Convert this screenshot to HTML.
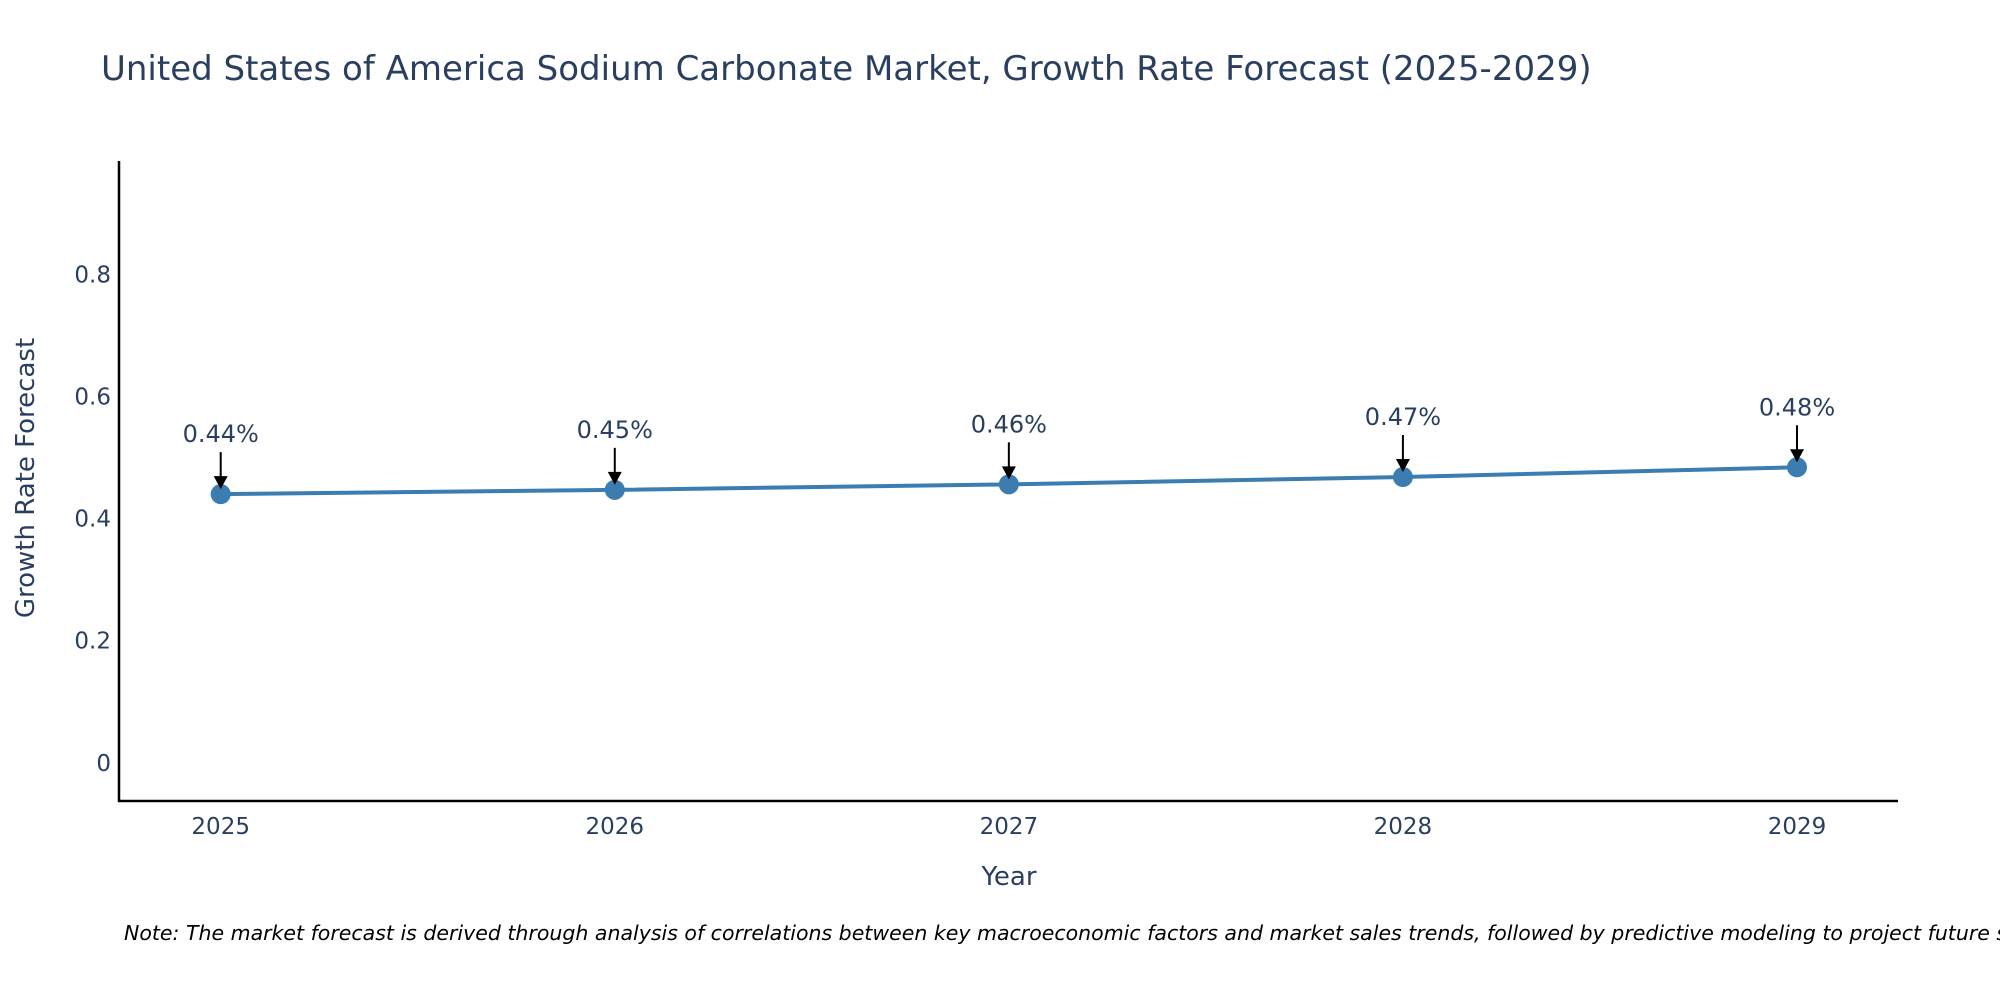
<!DOCTYPE html>
<html><head><meta charset="utf-8"><style>
html,body{margin:0;padding:0;background:#fff;overflow:hidden;}
svg{display:block;font-family:"DejaVu Sans","Liberation Sans",sans-serif;}
</style></head><body>
<svg id="chart" width="2000" height="1000" viewBox="0 0 2000 1000">
<text x="101" y="80" font-size="34" fill="#2a3f5f">United States of America Sodium Carbonate Market, Growth Rate Forecast (2025-2029)</text>
<g id="axes"></g>
<g id="series"></g>
<text x="1009" y="885" font-size="26" fill="#2a3f5f" text-anchor="middle">Year</text>
<text transform="translate(34,478) rotate(-90)" font-size="26" fill="#2a3f5f" text-anchor="middle">Growth Rate Forecast</text>
<text x="124" y="940" font-size="20.5" font-style="italic" fill="#000">Note: The market forecast is derived through analysis of correlations between key macroeconomic factors and market sales trends, followed by predictive modeling to project future sales.</text>
</svg>
<script>
const years = ["2025","2026","2027","2028","2029"];
const growth = [0.44, 0.447, 0.456, 0.468, 0.484];
const labels = ["0.44%","0.45%","0.46%","0.47%","0.48%"];
const yTicks = [0, 0.2, 0.4, 0.6, 0.8];
const yTickLabels = ["0","0.2","0.4","0.6","0.8"];

const NS="http://www.w3.org/2000/svg";
const x0=220.7, x1=1797, y0=762.8, yPer=610.6;
function xs(i){return x0+(x1-x0)*i/(years.length-1);}
function ys(v){return y0-v*yPer;}
function mk(tag,attrs,parent){const e=document.createElementNS(NS,tag);for(const k in attrs)e.setAttribute(k,attrs[k]);parent.appendChild(e);return e;}
const axes=document.getElementById('axes'), ser=document.getElementById('series');

let yl=mk('line',{x1:119,y1:161,x2:119,y2:802,stroke:'#000','stroke-width':2.5},axes);


let xl=mk('line',{x1:118,y1:801,x2:1898,y2:801,stroke:'#000','stroke-width':2.5},axes);



yTicks.forEach((t,i)=>{
  const tx=mk('text',{x:111,y:ys(t)+8,'font-size':23,fill:'#2a3f5f','text-anchor':'end'},axes);
  tx.textContent=yTickLabels[i];
  
  
});
years.forEach((yr,i)=>{
  const tx=mk('text',{x:xs(i),y:834,'font-size':23,fill:'#2a3f5f','text-anchor':'middle'},axes);
  tx.textContent=yr;
  
  
});

const pts=growth.map((v,i)=>xs(i)+','+ys(v)).join(' ');
const pl=mk('polyline',{points:pts,fill:'none',stroke:'#3b7db0','stroke-width':4},ser);



growth.forEach((v,i)=>{
  const cx=xs(i), cy=ys(v);
  const c=mk('circle',{cx:cx,cy:cy,r:10,fill:'#3b7db0'},ser);
  
  
  const ar=mk('line',{x1:cx,y1:cy-42,x2:cx,y2:cy-16,stroke:'#000','stroke-width':2},ser);
  
  
  const hd=mk('polygon',{points:(cx-7)+','+(cy-18)+' '+(cx+7)+','+(cy-18)+' '+cx+','+(cy-5),fill:'#000'},ser);
  
  
  const tx=mk('text',{x:cx,y:cy-52,'font-size':24,fill:'#2a3f5f','text-anchor':'middle'},ser);
  tx.textContent=labels[i];
  
  
});
</script>
</body></html>
